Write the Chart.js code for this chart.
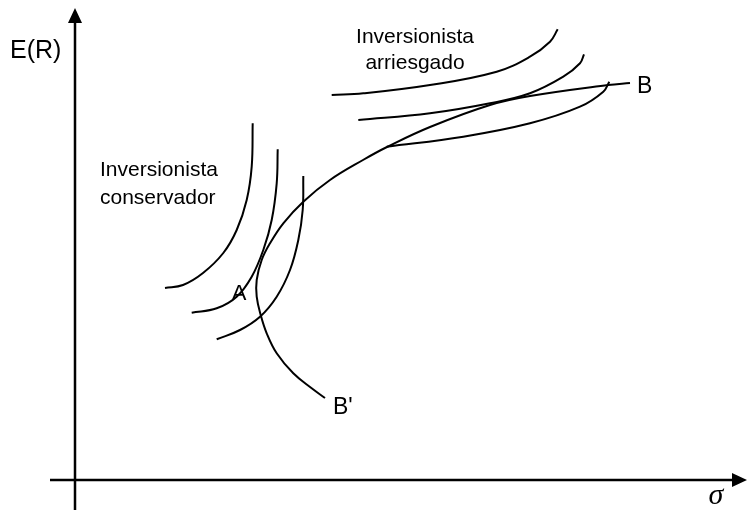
<!DOCTYPE html>
<html>
<head>
<meta charset="utf-8">
<script src="https://cdn.jsdelivr.net/npm/chart.js@4.4.1/dist/chart.umd.min.js"></script>
<style>
  html, body { margin: 0; padding: 0; background: #fff; }
  #chart { display: block; }
</style>
</head>
<body>
<canvas id="chart" width="747" height="510"></canvas>
<script>
// curves, in (sigma, E(R)) units
const frontier = [
  [25.0, 8.2], [23.67, 9.17], [21.83, 10.67], [20.17, 12.67], [19.17, 14.67], [18.57, 16.5],
  [18.17, 18.33], [18.17, 20.0], [18.67, 22.0], [19.5, 23.67], [20.83, 25.67], [22.83, 27.83],
  [25.5, 30.0], [28.8, 32.0], [31.2, 33.3], [35.5, 35.3], [41.5, 37.5], [45.5, 38.4], [53.3, 39.5], [55.5, 39.7]
];
const conservador1 = [[17.77, 35.67], [17.67, 31.33], [17.17, 28.0], [16.17, 25.0], [14.83, 22.7], [12.8, 20.7], [10.8, 19.5], [9.0, 19.2]];
const conservador2 = [[20.27, 33.07], [20.17, 29.67], [19.67, 26.0], [18.83, 23.0], [17.67, 20.33], [16.17, 18.33], [14.17, 17.17], [11.67, 16.73]];
const conservador3 = [[22.83, 30.4], [22.77, 27.0], [22.33, 24.0], [21.5, 21.0], [20.17, 18.33], [18.5, 16.33], [16.5, 15.0], [14.17, 14.07]];
const arriesgado1 = [[25.67, 38.5], [28.83, 38.67], [35.5, 39.5], [42.17, 40.83], [45.5, 42.33], [47.5, 43.83], [48.27, 45.07]];
const arriesgado2 = [[28.33, 36.0], [35.5, 36.67], [41.5, 37.67], [45.5, 38.67], [48.83, 40.33], [50.5, 41.67], [50.9, 42.57]];
const arriesgado3 = [[31.17, 33.33], [38.83, 34.33], [45.5, 35.67], [50.5, 37.33], [52.83, 38.83], [53.43, 39.83]];

const labels = ['E(R)', 'Inversionista', 'conservador', 'Inversionista', 'arriesgado', 'A', 'B', "B'"];
const axisLabelX = 'σ';

const toPts = arr => arr.map(p => ({ x: p[0], y: p[1] }));

const curves = [frontier, conservador1, conservador2, conservador3, arriesgado1, arriesgado2, arriesgado3];

const textSpots = [
  { t: labels[0], x: -6.5, y: 42.9, align: 'left', font: '25px "Liberation Sans"' },
  { t: labels[1], x: 2.5, y: 31.0, align: 'left', font: '21px "Liberation Sans"' },
  { t: labels[2], x: 2.5, y: 28.2, align: 'left', font: '21px "Liberation Sans"' },
  { t: labels[3], x: 34.0, y: 44.3, align: 'center', font: '21px "Liberation Sans"' },
  { t: labels[4], x: 34.0, y: 41.7, align: 'center', font: '21px "Liberation Sans"' },
  { t: labels[5], x: 16.4, y: 18.6, align: 'center', font: '22px "Liberation Sans"' },
  { t: labels[6], x: 56.2, y: 39.3, align: 'left', font: '23px "Liberation Sans"' },
  { t: labels[7], x: 25.8, y: 7.2, align: 'left', font: '23px "Liberation Sans"' },
  { t: axisLabelX, x: 64.1, y: -1.6, align: 'center', font: 'italic 30px "Liberation Serif"' }
];

const axesPlugin = {
  id: 'axes',
  afterDatasetsDraw(chart) {
    const { ctx, scales: { x, y } } = chart;
    const x0 = x.getPixelForValue(0), y0 = y.getPixelForValue(0);
    const xEnd = x.getPixelForValue(67.2), yTop = y.getPixelForValue(47.2);
    ctx.save();
    ctx.strokeStyle = '#000';
    ctx.fillStyle = '#000';
    ctx.lineWidth = 2.5;
    ctx.beginPath();
    ctx.moveTo(x.getPixelForValue(-2.5), y0);
    ctx.lineTo(xEnd - 10, y0);
    ctx.moveTo(x0, y.getPixelForValue(-3));
    ctx.lineTo(x0, yTop + 10);
    ctx.stroke();
    // arrow heads
    ctx.beginPath();
    ctx.moveTo(xEnd, y0);
    ctx.lineTo(xEnd - 15, y0 - 7);
    ctx.lineTo(xEnd - 15, y0 + 7);
    ctx.closePath();
    ctx.fill();
    ctx.beginPath();
    ctx.moveTo(x0, yTop);
    ctx.lineTo(x0 - 7, yTop + 15);
    ctx.lineTo(x0 + 7, yTop + 15);
    ctx.closePath();
    ctx.fill();
    // texts
    ctx.textBaseline = 'middle';
    textSpots.forEach(s => {
      ctx.font = s.font;
      ctx.textAlign = s.align;
      ctx.fillText(s.t, x.getPixelForValue(s.x), y.getPixelForValue(s.y));
    });
    ctx.restore();
  }
};

new Chart(document.getElementById('chart'), {
  type: 'scatter',
  data: {
    datasets: curves.map(c => ({
      data: toPts(c),
      showLine: true,
      borderColor: '#000',
      borderWidth: 2,
      pointRadius: 0,
      tension: 0.4,
      fill: false
    }))
  },
  options: {
    responsive: false,
    animation: false,
    layout: { padding: 0 },
    plugins: { legend: { display: false }, tooltip: { enabled: false } },
    scales: {
      x: { type: 'linear', min: -7.5, max: 67.2, display: false },
      y: { type: 'linear', min: -3, max: 48, display: false }
    }
  },
  plugins: [axesPlugin]
});
</script>
</body>
</html>
